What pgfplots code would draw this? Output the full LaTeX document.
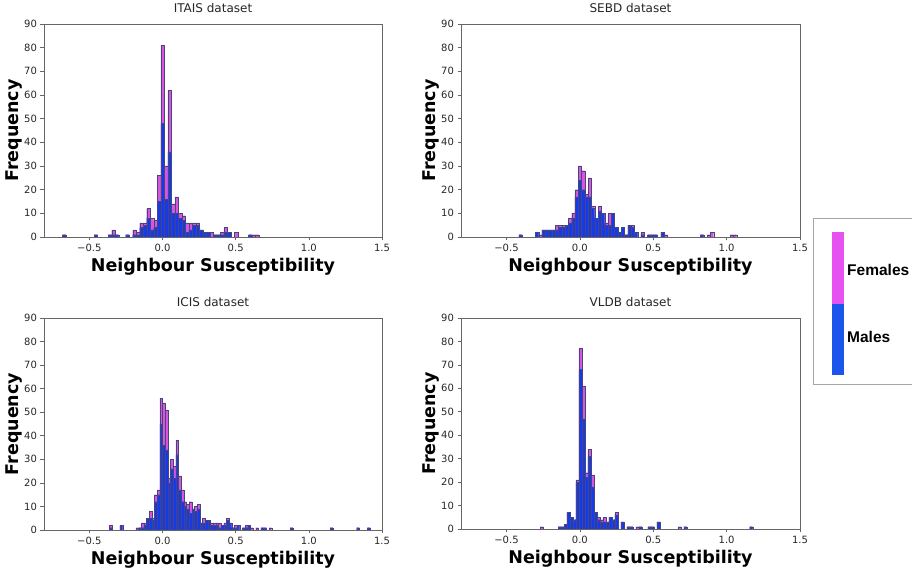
\documentclass[border=0pt]{standalone}
\usepackage{fontspec}
\setmainfont{DejaVu Sans}
\newfontfamily\legfont{Liberation Sans}
\usepackage{pgfplots}
\pgfplotsset{compat=1.18}

\definecolor{mblue}{RGB}{22,58,232}
\definecolor{mmag}{RGB}{215,85,225}
\definecolor{lblue}{RGB}{28,85,235}
\definecolor{lmag}{RGB}{230,82,240}
\definecolor{edge}{RGB}{70,70,120}

\pgfplotsset{
  histo/.style={
    scale only axis, width=338pt, height=213pt,
    xmin=-0.81, xmax=1.5, ymin=0, ymax=90,
    xtick={-0.5,0,0.5,1,1.5},
    xticklabels={−0.5,0.0,0.5,1.0,1.5},
    ytick={0,10,...,90},
    tick align=outside, tick pos=left, major tick length=3.5pt,
    axis line style={black!60}, tick style={black!60, line width=0.6pt},
    ticklabel style={font=\fontsize{10}{12}\selectfont, text=black!85},
    /pgf/number format/assume math mode=true,
    xlabel={Neighbour Susceptibility}, ylabel={Frequency},
    x label style={at={(axis description cs:0.5,-0.141)}, anchor=center,
      font=\fontsize{17.5}{20}\selectfont\bfseries},
    y label style={at={(axis description cs:-0.089,0.5)}, anchor=center,
      font=\fontsize{17.5}{20}\selectfont\bfseries},
    title style={at={(axis description cs:0.5,1.045)}, anchor=center,
      font=\fontsize{12}{14}\selectfont, text=black!85},
  },
  fem/.style={ybar, bar shift=0pt, fill=mmag, draw=edge, line width=0.2pt},
  mal/.style={ybar, bar shift=0pt, fill=mblue, draw=edge, line width=0.2pt},
}

\begin{document}
\begin{tikzpicture}
\useasboundingbox (0,0) rectangle (912pt,569pt);

% ITAIS
\begin{axis}[histo, at={(44pt,332pt)}, anchor=south west, title={ITAIS dataset}]
\addplot[fem, bar width=0.024] coordinates {
(-0.672,1)(-0.456,1)(-0.36,1)(-0.336,3)(-0.312,1)(-0.24,1)(-0.192,3)(-0.168,2)
(-0.144,6)(-0.12,6)(-0.096,12)(-0.072,8)(-0.048,7)(-0.024,26)(0,81)(0.024,30)
(0.048,62)(0.072,14)(0.096,17)(0.12,10)(0.144,9)(0.168,6)(0.192,6)(0.216,6)
(0.24,6)(0.264,3)(0.288,2)(0.312,2)(0.336,2)(0.36,1)(0.384,1)(0.408,2)(0.432,4)
(0.456,2)(0.504,2)(0.6,1)(0.624,1)(0.648,1)};
\addplot[mal, bar width=0.024] coordinates {
(-0.672,1)(-0.456,1)(-0.36,1)(-0.336,1)(-0.312,1)(-0.24,1)(-0.192,1)(-0.168,1)
(-0.144,4)(-0.12,5)(-0.096,8)(-0.072,3)(-0.048,4)(-0.024,15)(0,48)(0.024,16)
(0.048,36)(0.072,10)(0.096,10)(0.12,8)(0.144,7)(0.168,2)(0.192,3)(0.216,5)
(0.24,5)(0.264,3)(0.288,2)(0.312,2)(0.36,1)(0.384,1)(0.408,1)(0.432,2)
(0.456,2)(0.6,1)};
\end{axis}

% SEBD
\begin{axis}[histo, width=339pt, at={(461pt,332pt)}, anchor=south west, title={SEBD dataset}]
\addplot[fem, bar width=0.0225] coordinates {
(-0.405,1)(-0.2925,2)(-0.27,1)(-0.2475,3)(-0.225,3)(-0.2025,3)(-0.18,3)(-0.1575,5)
(-0.135,5)(-0.1125,5)(-0.09,5)(-0.0675,8)(-0.045,10)(-0.0225,20)(0,30)(0.0225,28)
(0.045,18)(0.0675,25)(0.09,13)(0.1125,8)(0.135,13)(0.1575,10)(0.18,6)(0.2025,10)
(0.225,10)(0.2475,4)(0.27,2)(0.2925,4)(0.315,1)(0.3375,5)(0.36,5)(0.3825,2)
(0.4275,2)(0.4725,1)(0.495,1)(0.5175,1)(0.5625,2)(0.585,1)(0.8325,1)(0.8775,1)
(0.9,2)(1.035,1)(1.0575,1)};
\addplot[mal, bar width=0.0225] coordinates {
(-0.405,1)(-0.2925,2)(-0.2475,3)(-0.225,3)(-0.2025,3)(-0.18,3)(-0.1575,3)
(-0.135,4)(-0.1125,4)(-0.09,5)(-0.0675,6)(-0.045,8)(-0.0225,17)(0,24)(0.0225,20)
(0.045,17)(0.0675,17)(0.09,12)(0.1125,8)(0.135,11)(0.1575,10)(0.18,5)(0.2025,5)
(0.225,10)(0.2475,4)(0.27,2)(0.2925,4)(0.315,1)(0.3375,5)(0.36,4)(0.3825,2)
(0.4275,1)(0.4725,1)(0.495,1)(0.5175,1)(0.5625,2)(0.8325,1)};
\end{axis}

% ICIS
\begin{axis}[histo, height=212pt, at={(44pt,39pt)}, anchor=south west, title={ICIS dataset}]
\addplot[fem, bar width=0.0182] coordinates {
(-0.3544,2)(-0.2817,2)(-0.1726,1)(-0.1544,1)(-0.1363,3)(-0.1181,3)(-0.0999,5)
(-0.0817,8)(-0.0635,5)(-0.0454,15)(-0.0272,17)(-0.009,56)(0.0092,54)(0.0274,51)
(0.0455,22)(0.0637,30)(0.0819,27)(0.1001,38)(0.1183,23)(0.1364,17)(0.1546,12)
(0.1728,11)(0.191,12)(0.2092,9)(0.2273,10)(0.2455,11)(0.2637,3)(0.2819,5)
(0.3001,4)(0.3182,4)(0.3364,3)(0.3546,3)(0.3728,3)(0.391,3)(0.4091,2)(0.4273,3)
(0.4455,5)(0.4637,3)(0.4819,1)(0.5,2)(0.5182,2)(0.5546,1)(0.5728,2)(0.591,2)
(0.6091,1)(0.6455,1)(0.6818,1)(0.7,1)(0.7364,1)(0.8818,1)(1.1545,1)(1.3363,1)
(1.409,1)};
\addplot[mal, bar width=0.0182] coordinates {
(-0.3544,1)(-0.2817,2)(-0.1544,1)(-0.1363,1)(-0.1181,2)(-0.0999,5)
(-0.0817,5)(-0.0635,4)(-0.0454,12)(-0.0272,15)(-0.009,45)(0.0092,36)(0.0274,34)
(0.0455,20)(0.0637,26)(0.0819,22)(0.1001,32)(0.1183,17)(0.1364,12)(0.1546,10)
(0.1728,9)(0.191,7)(0.2092,9)(0.2273,8)(0.2455,9)(0.2637,3)(0.2819,3)
(0.3001,4)(0.3182,4)(0.3364,2)(0.3546,2)(0.3728,2)(0.391,1)(0.4091,2)(0.4273,2)
(0.4455,4)(0.4637,3)(0.4819,1)(0.5,1)(0.5182,2)(0.5546,1)(0.5728,1)(0.591,2)
(0.6818,1)(0.7,1)(0.8818,1)(1.1545,1)(1.3363,1)(1.409,1)};
\end{axis}

% VLDB
\begin{axis}[histo, width=339pt, height=211pt, at={(461pt,40pt)}, anchor=south west, title={VLDB dataset}]
\addplot[fem, bar width=0.0204] coordinates {
(-0.2612,1)(-0.1388,1)(-0.1184,1)(-0.098,2)(-0.0776,7)(-0.0572,5)(-0.0368,4)
(-0.0164,21)(0.004,77)(0.0244,61)(0.0448,24)(0.0652,34)(0.0856,23)(0.106,7)
(0.1264,5)(0.1468,4)(0.1672,5)(0.1876,3)(0.208,5)(0.2284,4)(0.2488,7)(0.2896,3)
(0.3304,1)(0.3508,1)(0.3916,1)(0.412,1)(0.4732,1)(0.4936,1)(0.5344,3)(0.6772,1)
(0.718,1)(1.1668,1)};
\addplot[mal, bar width=0.0204] coordinates {
(-0.1388,1)(-0.1184,1)(-0.098,2)(-0.0776,7)(-0.0572,5)(-0.0368,4)
(-0.0164,20)(0.004,68)(0.0244,47)(0.0448,22)(0.0652,31)(0.0856,18)(0.106,7)
(0.1264,4)(0.1468,3)(0.1672,3)(0.1876,3)(0.208,5)(0.2284,4)(0.2488,6)(0.2896,3)
(0.3304,1)(0.3508,1)(0.412,1)(0.4732,1)(0.4936,1)(0.5344,3)
(0.718,1)(1.1668,1)};
\end{axis}

% legend
\draw[black!35, line width=0.8pt] (813pt,351pt) rectangle (940pt,185pt);
\fill[lmag] (832pt,337pt) rectangle (844pt,265pt);
\fill[lblue] (832pt,265pt) rectangle (844pt,194pt);
\node[anchor=west, inner sep=0pt, font=\legfont\fontsize{15.5}{18}\selectfont\bfseries] at (847pt,299pt) {Females};
\node[anchor=west, inner sep=0pt, font=\legfont\fontsize{15.5}{18}\selectfont\bfseries] at (847pt,232pt) {Males};
\end{tikzpicture}
\end{document}
